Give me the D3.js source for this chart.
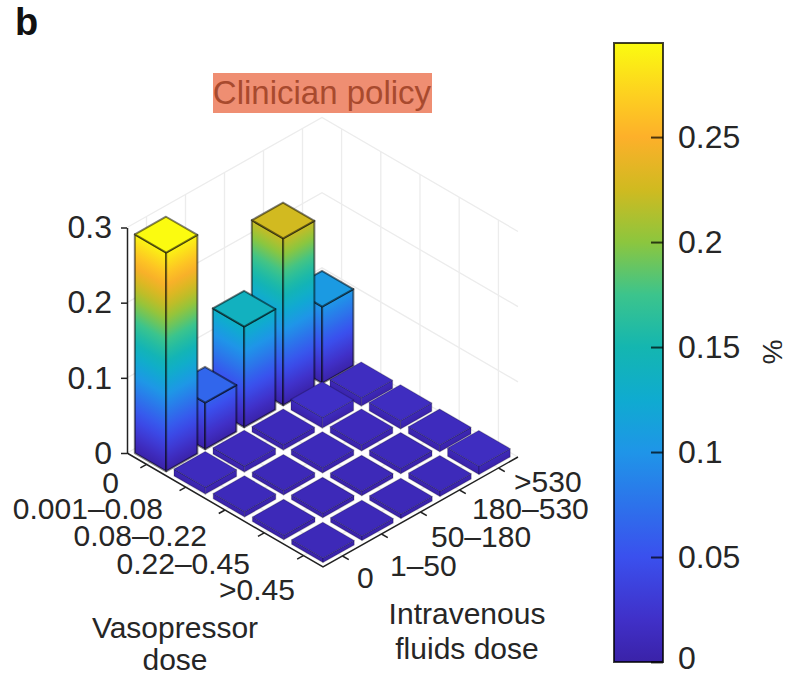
<!DOCTYPE html>
<html>
<head>
<meta charset="utf-8">
<script src="https://cdn.jsdelivr.net/npm/d3@7"></script>
<style>
  html, body { margin: 0; padding: 0; background: #fff; }
  text { font-family: "Liberation Sans", Arial, sans-serif; fill: #262626; }
</style>
</head>
<body>
<script>
// values, percent of patients per dose bin
let vasopressorLabels = ['0', '0.001–0.08', '0.08–0.22', '0.22–0.45', '>0.45'];
let fluidsLabels = ['0', '1–50', '50–180', '180–530', '>530'];

// one list per vasopressor bin, ordered by fluids bin
let vasoBin0 = [0.291, 0.062, 0.134, 0.222, 0.102];
let vasoBin1 = [0.009, 0.008, 0.007, 0.014, 0.011];
let vasoBin2 = [0.007, 0.006, 0.007, 0.008, 0.011];
let vasoBin3 = [0.006, 0.006, 0.006, 0.007, 0.009];
let vasoBin4 = [0.006, 0.006, 0.006, 0.007, 0.011];
let policy = [vasoBin0, vasoBin1, vasoBin2, vasoBin3, vasoBin4];

let zTicks = [0, 0.1, 0.2, 0.3];
let colorbarTicks = [0, 0.05, 0.1, 0.15, 0.2, 0.25];
let colorbarLabels = ['0', '0.05', '0.1', '0.15', '0.2', '0.25'];

// colormap as seen on the colorbar
let colorValues = [0, 0.02, 0.05, 0.1, 0.125, 0.15, 0.175, 0.2, 0.225, 0.25, 0.27, 0.295];
let colorStops = ['#3a22a8', '#4030c8', '#3a50ee', '#1f95e8', '#0fabd0', '#14b6b0', '#3cc48c',
                  '#8cc63e', '#d0ba20', '#fdb02a', '#fdd020', '#fbfb10'];

let width = 790;
let height = 677;

let color = d3.scaleLinear().domain(colorValues).range(colorStops);

// the oblique view is three linear scales added together
let origin = {x: 127, y: 453};
let uX = d3.scaleLinear().domain([0, 5]).range([0, 196]);
let uY = d3.scaleLinear().domain([0, 5]).range([0, 114]);
let vX = d3.scaleLinear().domain([0, 5]).range([0, 195]);
let vY = d3.scaleLinear().domain([0, 5]).range([0, -110]);
let zY = d3.scaleLinear().domain([0, 0.3]).range([0, -225.5]);

function project(u, v, z) {
    return [origin.x + uX(u) + vX(v), origin.y + uY(u) + vY(v) + zY(z)];
}

let line = d3.line();

let svg = d3.select('body').append('svg')
    .attr('width', width)
    .attr('height', height)
    .style('display', 'block');

let defs = svg.append('defs');

// back walls and floor grid
let grid = svg.append('g')
    .attr('fill', 'none')
    .attr('stroke', '#ececec')
    .attr('stroke-width', 1.3);

d3.range(5).forEach(function(k) {
    grid.append('path').attr('d', line([project(0, k + 0.5, 0), project(0, k + 0.5, 0.3)]));
    grid.append('path').attr('d', line([project(k + 0.5, 5, 0), project(k + 0.5, 5, 0.3)]));
    grid.append('path').attr('d', line([project(0, k + 0.5, 0), project(5, k + 0.5, 0)]));
    grid.append('path').attr('d', line([project(k + 0.5, 0, 0), project(k + 0.5, 5, 0)]));
});
zTicks.forEach(function(z) {
    grid.append('path').attr('d', line([project(0, 0, z), project(0, 5, z), project(5, 5, z)]));
});

// flatten to cells and paint from the back corner to the front one
let cells = [];
policy.forEach(function(row, i) {
    row.forEach(function(value, j) {
        cells.push({i: i, j: j, value: value});
    });
});
cells.sort(function(a, b) { return (a.i - a.j) - (b.i - b.j); });

let barWidth = 0.8;
let pad = (1 - barWidth) / 2;
let bars = svg.append('g');

// iso-value lines on a side face follow its bottom edge, so tilt the gradient with it
function sideGradient(id, a, b, value) {
    let dx = b[0] - a[0];
    let dy = b[1] - a[1];
    let len = Math.sqrt(dx * dx + dy * dy);
    let nx = dy / len;
    let ny = -dx / len;
    let rise = zY(value);
    let t = rise * ny;
    let g = defs.append('linearGradient')
        .attr('id', id)
        .attr('gradientUnits', 'userSpaceOnUse')
        .attr('x1', a[0]).attr('y1', a[1])
        .attr('x2', a[0] + nx * t).attr('y2', a[1] + ny * t);
    d3.range(0, 1.001, 0.05).forEach(function(f) {
        g.append('stop').attr('offset', f).attr('stop-color', color(f * value));
    });
}

cells.forEach(function(d, n) {
    let u0 = d.i + pad, u1 = d.i + 1 - pad;
    let v0 = d.j + pad, v1 = d.j + 1 - pad;
    let z = d.value;

    let leftFace = [project(u0, v0, 0), project(u1, v0, 0), project(u1, v0, z), project(u0, v0, z)];
    let rightFace = [project(u1, v0, 0), project(u1, v1, 0), project(u1, v1, z), project(u1, v0, z)];
    let topFace = [project(u0, v0, z), project(u1, v0, z), project(u1, v1, z), project(u0, v1, z)];

    sideGradient('l' + n, leftFace[0], leftFace[1], z);
    sideGradient('r' + n, rightFace[0], rightFace[1], z);

    let edge = z > 0.02 ? 0.5 : 0.2;
    let g = bars.append('g')
        .attr('stroke', '#000')
        .attr('stroke-opacity', edge)
        .attr('stroke-width', z > 0.02 ? 2 : 1.2)
        .attr('stroke-linejoin', 'round');
    g.append('path').attr('d', line(leftFace) + 'Z').attr('fill', 'url(#l' + n + ')');
    g.append('path').attr('d', line(rightFace) + 'Z').attr('fill', 'url(#r' + n + ')');
    g.append('path').attr('d', line(topFace) + 'Z').attr('fill', color(z + 0.004));
});

// floor axes
let axes = svg.append('g')
    .attr('fill', 'none')
    .attr('stroke', '#222')
    .attr('stroke-width', 1.5);

axes.append('path').attr('d', line([project(0, 0, 0), project(5, 0, 0), project(5, 5, 0)]));
d3.range(5).forEach(function(k) {
    axes.append('path').attr('d', line([project(k + 0.5, 0, 0), project(k + 0.5, -0.16, 0)]));
    axes.append('path').attr('d', line([project(5, k + 0.5, 0), project(5.16, k + 0.5, 0)]));
});

// vertical axis
let zScreen = d3.scaleLinear().domain([0, 0.3]).range([origin.y, origin.y + zY(0.3)]);
let zAxis = d3.axisLeft(zScreen)
    .tickValues(zTicks)
    .tickFormat(function(d) { return d === 0 ? '0' : d3.format('.1f')(d); })
    .tickSizeInner(6)
    .tickSizeOuter(0)
    .tickPadding(9);

let zG = svg.append('g')
    .attr('transform', 'translate(' + origin.x + ', 0)')
    .call(zAxis);
zG.selectAll('path, line').attr('stroke', '#222').attr('stroke-width', 1.5);
zG.selectAll('text')
    .style('font-size', '32px')
    .style('font-family', '"Liberation Sans", Arial, sans-serif')
    .attr('fill', '#262626');

// tick labels, each placed where the original figure put it
let vasoEnds = [119, 163, 207, 250, 295];
let vasoBase = [493, 519, 546, 574, 600];
svg.append('g').selectAll('text')
    .data(vasopressorLabels)
  .enter().append('text')
    .attr('x', function(d, i) { return vasoEnds[i]; })
    .attr('y', function(d, i) { return vasoBase[i]; })
    .attr('text-anchor', 'end')
    .style('font-size', '30px')
    .text(function(d) { return d; });

let fluidsStarts = [357, 390, 431, 472, 514];
let fluidsBase = [588, 576, 547, 519, 492];
svg.append('g').selectAll('text')
    .data(fluidsLabels)
  .enter().append('text')
    .attr('x', function(d, i) { return fluidsStarts[i]; })
    .attr('y', function(d, i) { return fluidsBase[i]; })
    .style('font-size', '30px')
    .text(function(d) { return d; });

// axis titles
function centred(x, y, str) {
    svg.append('text')
        .attr('x', x)
        .attr('y', y)
        .attr('text-anchor', 'middle')
        .style('font-size', '30px')
        .text(str);
}
centred(175, 638, 'Vasopressor');
centred(175, 670, 'dose');
centred(467, 624, 'Intravenous');
centred(467, 659, 'fluids dose');

// highlighted title
svg.append('rect')
    .attr('x', 213)
    .attr('y', 73)
    .attr('width', 219)
    .attr('height', 40)
    .attr('fill', '#ef8e72');
svg.append('text')
    .attr('x', 322)
    .attr('y', 104)
    .attr('text-anchor', 'middle')
    .style('font-size', '33px')
    .style('fill', '#a84a2e')
    .text('Clinician policy');

// panel letter
svg.append('text')
    .attr('x', 15)
    .attr('y', 35)
    .style('font-weight', 700)
    .style('font-size', '38px')
    .style('fill', '#111')
    .text('b');

// colorbar
let cbar = {x: 614, width: 49, top: 43, bottom: 662};
let cbarScale = d3.scaleLinear().domain([0, 0.2948]).range([cbar.bottom, cbar.top]);

let cbarGrad = defs.append('linearGradient')
    .attr('id', 'cbar')
    .attr('x1', 0).attr('y1', 1)
    .attr('x2', 0).attr('y2', 0);
colorValues.forEach(function(v) {
    cbarGrad.append('stop')
        .attr('offset', v / 0.2948)
        .attr('stop-color', color(v));
});

svg.append('rect')
    .attr('x', cbar.x)
    .attr('y', cbar.top)
    .attr('width', cbar.width)
    .attr('height', cbar.bottom - cbar.top)
    .attr('fill', 'url(#cbar)')
    .attr('stroke', '#000')
    .attr('stroke-opacity', 0.75)
    .attr('stroke-width', 2);

let cbarAxis = d3.axisRight(cbarScale)
    .tickValues(colorbarTicks)
    .tickFormat(function(d, i) { return colorbarLabels[i]; })
    .tickSizeInner(-12)
    .tickSizeOuter(0)
    .tickPadding(15);

let cbarG = svg.append('g')
    .attr('transform', 'translate(' + (cbar.x + cbar.width) + ', 0)')
    .call(cbarAxis);
cbarG.select('.domain').remove();
cbarG.selectAll('line').attr('stroke', '#000').attr('stroke-opacity', 0.7).attr('stroke-width', 2);
cbarG.selectAll('text')
    .style('font-size', '32px')
    .style('font-family', '"Liberation Sans", Arial, sans-serif')
    .attr('fill', '#262626');
// the bottom label sits a little higher so that it stays on the page
cbarG.selectAll('.tick text').filter(function(d) { return d === 0; }).attr('dy', '0.2em');

svg.append('text')
    .attr('transform', 'translate(763, 352) rotate(90)')
    .attr('text-anchor', 'middle')
    .style('font-size', '28px')
    .text('%');
</script>
</body>
</html>
